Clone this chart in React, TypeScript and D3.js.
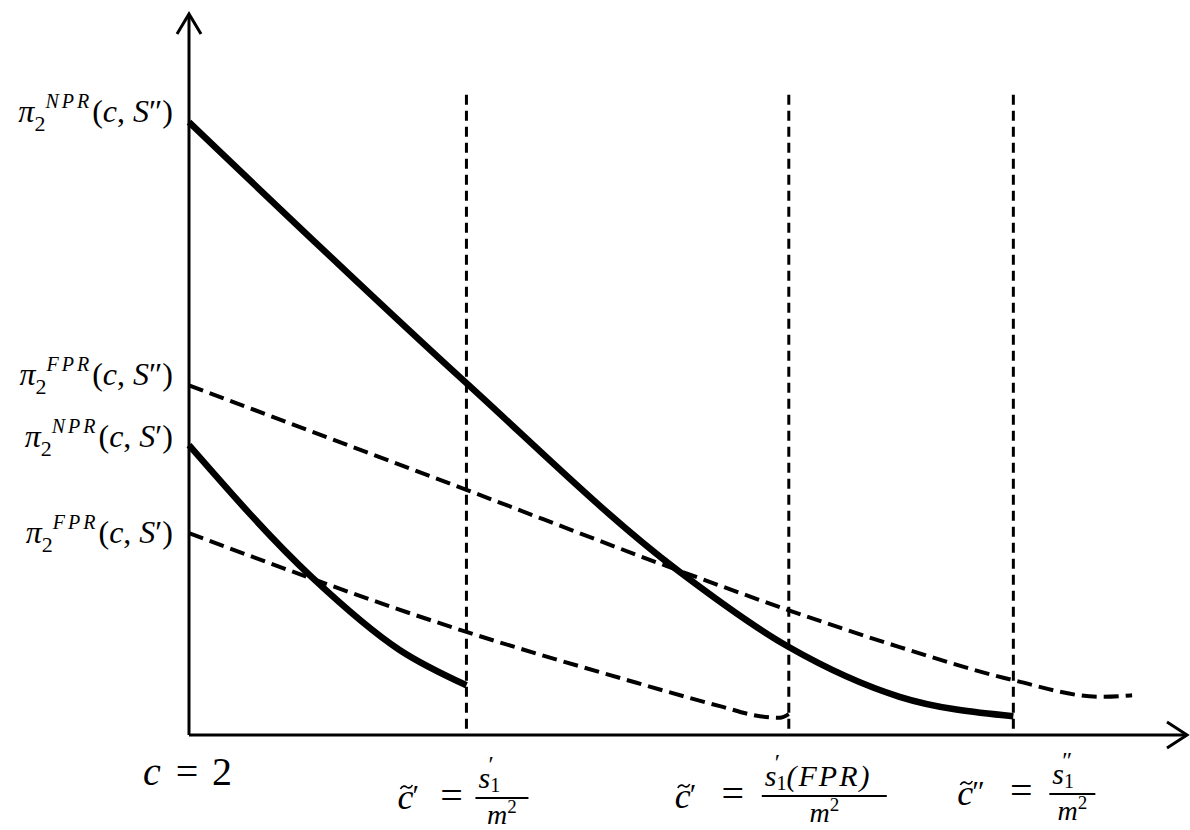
import * as d3 from "d3";

// c axis runs 0..100, profit axis 0..100 (schematic units)
const thresholds = [27.8, 60.1, 82.6]; // c~', c~'(FPR), c~''
const vTop = 88.8;

const nprS2: [number, number][] = [
  [0, 85.0], [27.8, 48.8], [48.9, 22.9], [60.1, 12.2], [71.2, 5.3], [82.6, 2.6],
];
const nprS1: [number, number][] = [
  [0, 40.2], [12.3, 21.9], [21.1, 11.8], [27.8, 6.9],
];
const fprS2: [number, number][] = [
  [0, 48.5], [27.8, 34.0], [48.9, 22.9], [60.1, 17.3], [71.2, 12.2], [82.6, 7.6], [91.3, 5.3], [94.5, 5.5],
];
const fprS1: [number, number][] = [
  [0, 28.0], [27.8, 14.3], [43.2, 7.9], [53.2, 4.0], [57.2, 2.6], [59.2, 2.4], [60.1, 2.9],
];

// y-axis labels: [value, superscript, prime]
const yLabels: [number, string, string][] = [
  [86.4, "NPR", "″"],
  [49.9, "FPR", "″"],
  [41.3, "NPR", "′"],
  [28.0, "FPR", "′"],
];

const W = 1190;
const H = 830;
const serif = "'Liberation Serif', 'DejaVu Serif', serif";

const x = d3.scaleLinear().domain([0, 100]).range([189, 1187]);
const y = d3.scaleLinear().domain([0, 100]).range([735, 14]);

const line = d3
  .line<[number, number]>()
  .x((d) => x(d[0]))
  .y((d) => y(d[1]))
  .curve(d3.curveMonotoneX);

function PiLabel({ v, sup, mark }: { v: number; sup: string; mark: string }) {
  return (
    <text x={173} y={y(v) + 10} textAnchor="end" fontFamily={serif} fontSize={32}>
      <tspan fontStyle="italic">π</tspan>
      <tspan fontSize={22} dy={9}>2</tspan>
      <tspan fontSize={20} fontStyle="italic" letterSpacing={3} dy={-23}>{sup}</tspan>
      <tspan dy={14}>(</tspan>
      <tspan fontStyle="italic">c</tspan>
      <tspan>, </tspan>
      <tspan fontStyle="italic">S</tspan>
      <tspan>{mark}</tspan>
      <tspan>)</tspan>
    </text>
  );
}

function CTilde({ cx, base, mark }: { cx: number; base: number; mark: string }) {
  const tx = cx + 9;
  const ty = base - 22;
  return (
    <g fontFamily={serif}>
      <text x={cx} y={base} fontSize={36} fontStyle="italic">c</text>
      <path
        d={`M${tx - 6},${ty + 2}C${tx - 4},${ty - 2} ${tx - 1},${ty - 1} ${tx},${ty}S${tx + 4},${ty + 2} ${tx + 6},${ty - 2}`}
        fill="none"
        stroke="#000"
        strokeWidth={1.6}
      />
      <text x={cx + 15} y={base - 4} fontSize={30}>{mark}</text>
    </g>
  );
}

function Fraction({ x0, x1, barY, num, mark }: { x0: number; x1: number; barY: number; num: string; mark: string }) {
  const cx = (x0 + x1) / 2;
  return (
    <g fontFamily={serif}>
      <text x={x0 + 3} y={barY - 10} fontSize={30}>
        <tspan fontStyle="italic">s</tspan>
        <tspan fontSize={20} dy={4}>1</tspan>
        {num && <tspan dy={-4} fontStyle="italic" letterSpacing={2}>{num}</tspan>}
      </text>
      <text x={x0 + 13} y={barY - 26} fontSize={24}>{mark}</text>
      <line x1={x0} x2={x1} y1={barY} y2={barY} stroke="#000" strokeWidth={2} />
      <text x={cx} y={barY + 26} fontSize={28} textAnchor="middle">
        <tspan fontStyle="italic">m</tspan>
        <tspan fontSize={19} dy={-11}>2</tspan>
      </text>
    </g>
  );
}

function Eq({ cx, base }: { cx: number; base: number }) {
  return (
    <text x={cx} y={base} fontSize={40} fontFamily={serif} textAnchor="middle">=</text>
  );
}

export default function App() {
  const x0 = x(0);
  const y0 = y(0);
  const xEnd = x(100);
  const yEnd = y(100);
  const [t1, t2, t3] = thresholds.map((t) => x(t));
  return (
    <svg
      width={W}
      height={H}
      style={{ position: "absolute", left: 0, top: 0, background: "#fff" }}
    >
      <rect width={W} height={H} fill="#fff" />
      {/* axes */}
      <g stroke="#000" strokeWidth={3} fill="none">
        <line x1={x0} y1={y0} x2={x0} y2={yEnd} />
        <line x1={x0} y1={y0} x2={xEnd} y2={y0} />
        <path d={`M${x0 - 12},${yEnd + 20}L${x0},${yEnd}L${x0 + 12},${yEnd + 20}`} />
        <path d={`M${xEnd - 20},${y0 - 13}L${xEnd},${y0}L${xEnd - 20},${y0 + 13}`} />
      </g>
      {/* threshold lines */}
      <g stroke="#000" strokeWidth={3} strokeDasharray="10 6">
        {thresholds.map((t, i) => (
          <line key={i} x1={x(t)} x2={x(t)} y1={y(vTop)} y2={y0} />
        ))}
      </g>
      {/* profit curves */}
      <g fill="none" stroke="#000">
        <path d={line(fprS2) || ""} strokeWidth={4} strokeDasharray="15 7" />
        <path d={line(fprS1) || ""} strokeWidth={4} strokeDasharray="15 7" />
        <path d={line(nprS2) || ""} strokeWidth={6.5} />
        <path d={line(nprS1) || ""} strokeWidth={6.5} />
      </g>
      {/* y labels */}
      {yLabels.map(([v, sup, mark], i) => (
        <PiLabel key={i} v={v} sup={sup} mark={mark} />
      ))}
      {/* x labels */}
      <g fontFamily={serif}>
        <text x={x0 - 46} y={785} fontSize={40} fontStyle="italic">c</text>
        <Eq cx={x0 - 2} base={785} />
        <text x={x0 + 23} y={785} fontSize={40}>2</text>
      </g>

      <CTilde cx={t1 - 69} base={809} mark="′" />
      <Eq cx={t1 - 15} base={809} />
      <Fraction x0={t1 + 9} x1={t1 + 62} barY={798} num="" mark="′" />

      <CTilde cx={t2 - 114} base={808} mark="′" />
      <Eq cx={t2 - 56} base={807} />
      <Fraction x0={t2 - 27} x1={t2 + 98} barY={796} num="(FPR)" mark="′" />

      <CTilde cx={t3 - 56} base={805} mark="″" />
      <Eq cx={t3 + 8} base={804} />
      <Fraction x0={t3 + 36} x1={t3 + 82} barY={794} num="" mark="″" />
    </svg>
  );
}
